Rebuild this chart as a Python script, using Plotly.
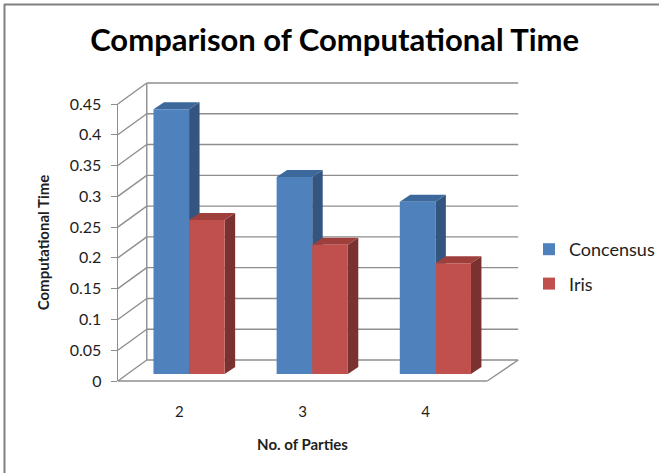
import plotly.graph_objects as go

# ---- data ----
categories = ["2", "3", "4"]
concensus = [0.43, 0.32, 0.28]
iris = [0.25, 0.21, 0.18]
ytick_vals = [0, 0.05, 0.1, 0.15, 0.2, 0.25, 0.3, 0.35, 0.4, 0.45]

W, H = 660, 473
FONT = "Lato"

def fx(px):
    return px / W

def fy(py):
    return 1 - py / H

# geometry (pixels)
FRONT_L, FRONT_R, FRONT_B, FRONT_T = 118, 488, 381, 104
BACK_L, BACK_R, BACK_B, BACK_T = 147, 519, 360, 83
BAR_L, BAR_R, BAR_B, BAR_T = 127.7, 497.7, 374, 97
YMAX = 0.45
GRID = "#8E8E8E"

xpos = list(range(len(categories)))
bw = 0.289
# depth of bars in data units
ddx = 10.5 / ((BAR_R - BAR_L) / 3)
ddy = 7 * YMAX / (BAR_B - BAR_T)

fig = go.Figure()

series = [
    ("Concensus", concensus, "#4F81BD", "#3D689B", "#33557F", -bw),
    ("Iris", iris, "#C0504D", "#9E3F3C", "#7A3230", 0.0),
]

shapes = []
for name, vals, front, top, side, off in series:
    fig.add_trace(go.Bar(
        name=name, x=xpos, y=vals, width=[bw] * len(vals), offset=[off] * len(vals),
        marker=dict(color=front, line=dict(width=0)), legendgroup=name,
        xaxis="x", yaxis="y", hoverinfo="skip"))
    for xi, v in zip(xpos, vals):
        x0 = xi + off
        x1 = x0 + bw
        # right side face
        shapes.append(dict(type="path", xref="x", yref="y", layer="below",
                           path=f"M {x1},0 L {x1+ddx},{ddy} L {x1+ddx},{v+ddy} L {x1},{v} Z",
                           fillcolor=side, line=dict(width=0)))
        # top face
        shapes.append(dict(type="path", xref="x", yref="y", layer="below",
                           path=f"M {x0},{v} L {x0+ddx},{v+ddy} L {x1+ddx},{v+ddy} L {x1},{v} Z",
                           fillcolor=top, line=dict(width=0)))

# invisible trace so the label axes are drawn
fig.add_trace(go.Scatter(x=[None], y=[None], xaxis="x2", yaxis="y2",
                         showlegend=False, hoverinfo="skip"))

# walls & grid (paper shapes, below everything)
def front_py(v):
    return FRONT_B - (FRONT_B - FRONT_T) * v / YMAX

def back_py(v):
    return BACK_B - (BACK_B - BACK_T) * v / YMAX

line = dict(color=GRID, width=1.4)
for v in ytick_vals:
    shapes.append(dict(type="line", xref="paper", yref="paper", layer="below",
                       x0=fx(BACK_L), x1=fx(BACK_R), y0=fy(back_py(v)), y1=fy(back_py(v)), line=line))
    shapes.append(dict(type="line", xref="paper", yref="paper", layer="below",
                       x0=fx(FRONT_L), x1=fx(BACK_L), y0=fy(front_py(v)), y1=fy(back_py(v)), line=line))
# back-left vertical
shapes.append(dict(type="line", xref="paper", yref="paper", layer="below",
                   x0=fx(BACK_L), x1=fx(BACK_L), y0=fy(BACK_B), y1=fy(BACK_T), line=line))
# floor front edge and right edge
shapes.append(dict(type="line", xref="paper", yref="paper", layer="below",
                   x0=fx(FRONT_L), x1=fx(FRONT_R), y0=fy(FRONT_B), y1=fy(FRONT_B), line=line))
shapes.append(dict(type="line", xref="paper", yref="paper", layer="below",
                   x0=fx(FRONT_R), x1=fx(BACK_R), y0=fy(FRONT_B), y1=fy(BACK_B), line=line))
# outer border (left and top)
shapes.append(dict(type="line", xref="paper", yref="paper", layer="above",
                   x0=fx(4.5), x1=fx(4.5), y0=0, y1=fy(4), line=dict(color="#808080", width=2)))
shapes.append(dict(type="line", xref="paper", yref="paper", layer="above",
                   x0=fx(4), x1=1, y0=fy(4.5), y1=fy(4.5), line=dict(color="#808080", width=2)))

fig.update_layout(
    width=W, height=H, autosize=False,
    margin=dict(l=0, r=0, t=0, b=0, pad=0),
    paper_bgcolor="white", plot_bgcolor="rgba(0,0,0,0)",
    barmode="overlay",
    font=dict(family=FONT, size=13, color="#1E1E1E"),
    title=dict(text="<b>Comparison of Computational Time</b>", x=0.507, xanchor="center",
               y=fy(40), yanchor="middle", automargin=False,
               font=dict(size=31, color="black", family=FONT)),
    showlegend=True,
    legend=dict(x=fx(530), y=fy(231), xanchor="left", yanchor="top",
                font=dict(size=18, color="#1E1E1E"), tracegroupgap=8,
                itemwidth=30, bgcolor="rgba(0,0,0,0)"),
    xaxis=dict(domain=[fx(BAR_L), fx(BAR_R)], range=[-0.5, 2.5], visible=False,
               anchor="y", automargin=False),
    yaxis=dict(domain=[fy(BAR_B), fy(BAR_T)], range=[0, YMAX], visible=False,
               anchor="x", automargin=False),
    xaxis2=dict(domain=[fx(FRONT_L), fx(FRONT_R)], range=[-0.5, 2.5], anchor="y2",
                automargin=False,
                tickvals=xpos, ticktext=categories, showgrid=False, zeroline=False,
                showline=False, ticks="", ticklabelstandoff=20,
                tickfont=dict(size=15, color="#1E1E1E"),
                title=dict(text="<b>No. of Parties</b>", standoff=20,
                           font=dict(size=15, color="#1E1E1E"))),
    yaxis2=dict(domain=[fy(FRONT_B), fy(FRONT_T)], range=[0, YMAX], anchor="x2",
                automargin=False,
                tickvals=ytick_vals, ticktext=[f"{v:g}" for v in ytick_vals],
                showgrid=False, zeroline=False, showline=True, linecolor=GRID, linewidth=1.4,
                ticks="outside", ticklen=6, tickcolor=GRID, tickwidth=1.4,
                ticklabelstandoff=6, tickfont=dict(size=16, color="#1E1E1E"),
                title=dict(text="<b>Computational Time</b>", standoff=16,
                           font=dict(size=15, color="#1E1E1E"))),
    shapes=shapes,
)

fig.write_html(
    "out.html", config={"displayModeBar": False},
    post_script=(
        "document.documentElement.style.margin='0';"
        "document.body.style.margin='0';"
    ),
)
